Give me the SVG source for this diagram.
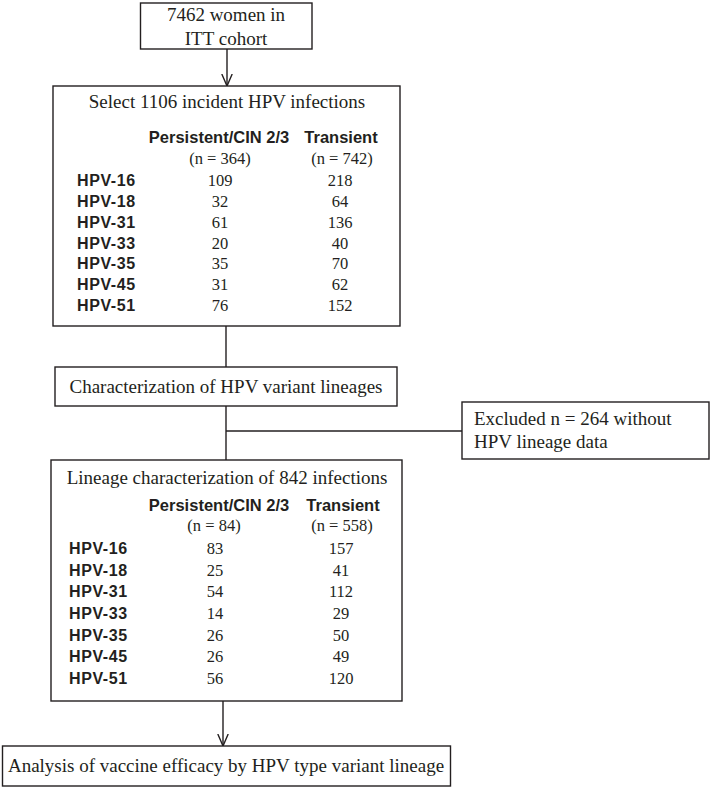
<svg xmlns="http://www.w3.org/2000/svg" width="711" height="788" viewBox="0 0 711 788">
<style>
.box{fill:#fff;stroke:#231f20;stroke-width:1.4}
.ln{fill:none;stroke:#231f20;stroke-width:1.4}
.t{font-family:"Liberation Serif","Times New Roman",serif;font-size:19px;fill:#231f20}
.c{text-anchor:middle}
.h{font-family:"Liberation Sans",Arial,sans-serif;font-weight:bold;font-size:16.5px;fill:#231f20;text-anchor:middle}
.lab{font-family:"Liberation Sans",Arial,sans-serif;font-weight:bold;font-size:16px;letter-spacing:0.6px;fill:#231f20}
.n{font-family:"Liberation Serif","Times New Roman",serif;font-size:16.5px;fill:#231f20;text-anchor:middle}
</style>
<defs>
<marker id="arr" markerUnits="userSpaceOnUse" viewBox="0 0 13 12" refX="12.5" refY="6" markerWidth="13" markerHeight="12" orient="auto">
<path d="M0.5,0.8 L12.5,6 L0.5,11.2" fill="none" stroke="#231f20" stroke-width="1.4"/>
</marker>
</defs>
<g id="connectors">
<line class="ln" x1="227" y1="49" x2="227" y2="86" marker-end="url(#arr)"/>
<line class="ln" x1="226" y1="326" x2="226" y2="367"/>
<line class="ln" x1="226" y1="406" x2="226" y2="460"/>
<line class="ln" x1="226" y1="431" x2="462" y2="431"/>
<line class="ln" x1="223" y1="701" x2="223" y2="746" marker-end="url(#arr)"/>
</g>
<g id="cohort">
<rect class="box" x="140.5" y="3" width="171.5" height="46"/>
<text class="t c" x="226" y="21">7462 women in</text>
<text class="t c" x="226" y="45">ITT cohort</text>
</g>
<g id="select">
<rect class="box" x="53" y="86" width="347" height="240"/>
<text class="t c" x="227" y="108">Select 1106 incident HPV infections</text>
<text class="h" x="219" y="143">Persistent/CIN 2/3</text>
<text class="h" x="341" y="143">Transient</text>
<text class="n" x="220" y="164">(n = 364)</text>
<text class="n" x="342" y="164">(n = 742)</text>
<text class="lab" x="77" y="186">HPV-16</text><text class="n" x="220" y="186">109</text><text class="n" x="340" y="186">218</text>
<text class="lab" x="77" y="207">HPV-18</text><text class="n" x="220" y="207">32</text><text class="n" x="340" y="207">64</text>
<text class="lab" x="77" y="228">HPV-31</text><text class="n" x="220" y="228">61</text><text class="n" x="340" y="228">136</text>
<text class="lab" x="77" y="249">HPV-33</text><text class="n" x="220" y="249">20</text><text class="n" x="340" y="249">40</text>
<text class="lab" x="77" y="269">HPV-35</text><text class="n" x="220" y="269">35</text><text class="n" x="340" y="269">70</text>
<text class="lab" x="77" y="290">HPV-45</text><text class="n" x="220" y="290">31</text><text class="n" x="340" y="290">62</text>
<text class="lab" x="77" y="311">HPV-51</text><text class="n" x="220" y="311">76</text><text class="n" x="340" y="311">152</text>
</g>
<g id="characterization">
<rect class="box" x="55" y="367" width="342" height="39"/>
<text class="t c" x="226" y="393">Characterization of HPV variant lineages</text>
</g>
<g id="excluded">
<rect class="box" x="462" y="402" width="247" height="57"/>
<text class="t" x="474" y="425">Excluded n = 264 without</text>
<text class="t" x="474" y="448">HPV lineage data</text>
</g>
<g id="lineage">
<rect class="box" x="51" y="460" width="351" height="241"/>
<text class="t c" x="227" y="484">Lineage characterization of 842 infections</text>
<text class="h" x="219" y="511">Persistent/CIN 2/3</text>
<text class="h" x="343" y="511">Transient</text>
<text class="n" x="214" y="531">(n = 84)</text>
<text class="n" x="342" y="531">(n = 558)</text>
<text class="lab" x="69" y="554">HPV-16</text><text class="n" x="215" y="554">83</text><text class="n" x="341" y="554">157</text>
<text class="lab" x="69" y="576">HPV-18</text><text class="n" x="215" y="576">25</text><text class="n" x="341" y="576">41</text>
<text class="lab" x="69" y="597">HPV-31</text><text class="n" x="215" y="597">54</text><text class="n" x="341" y="597">112</text>
<text class="lab" x="69" y="619">HPV-33</text><text class="n" x="215" y="619">14</text><text class="n" x="341" y="619">29</text>
<text class="lab" x="69" y="641">HPV-35</text><text class="n" x="215" y="641">26</text><text class="n" x="341" y="641">50</text>
<text class="lab" x="69" y="662">HPV-45</text><text class="n" x="215" y="662">26</text><text class="n" x="341" y="662">49</text>
<text class="lab" x="69" y="684">HPV-51</text><text class="n" x="215" y="684">56</text><text class="n" x="341" y="684">120</text>
</g>
<g id="analysis">
<rect class="box" x="2.5" y="746" width="448" height="40"/>
<text class="t c" x="226" y="772">Analysis of vaccine efficacy by HPV type variant lineage</text>
</g>
</svg>
